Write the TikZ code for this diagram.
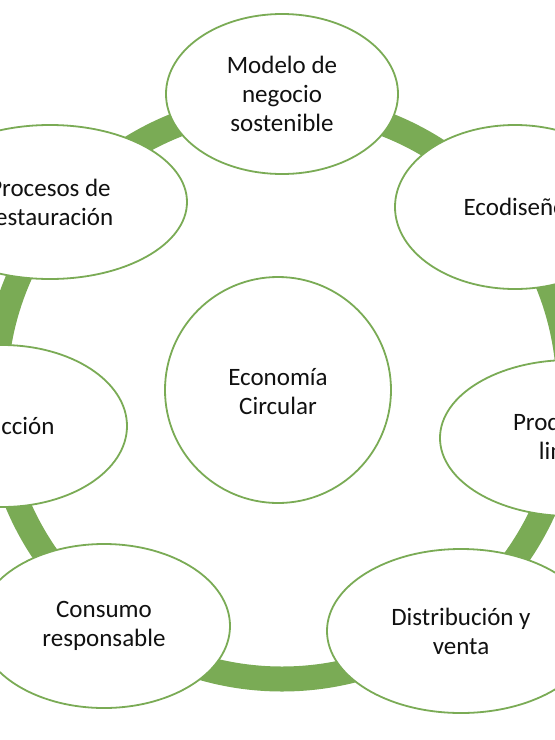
\documentclass[tikz,border=0pt]{standalone}
\usepackage{fontspec}
\setmainfont{Carlito}
\usepackage{tikz}
\usetikzlibrary{
  shapes.geometric,
  positioning
}
\definecolor{ecGreen}{HTML}{7AAB55}
\definecolor{ecText}{HTML}{111111}
\tikzset{
  ecnode/.style={
    ellipse, draw=ecGreen, line width=1.8pt, fill=white, inner sep=0pt,
    font=\fontsize{25}{29}\selectfont, text=ecText, align=center
  },
  hub/.style={ecnode, circle, minimum size=226pt},
  ring/.style={line width=25pt, ecGreen}
}
\begin{document}
\begin{tikzpicture}[x=1pt, y=-1pt]
  \useasboundingbox (0,0) rectangle (555,740);
  \clip (0,0) rectangle (555,740);
  \coordinate (ringc) at (282,392);
  \draw[ring] (ringc) circle[radius=287];
  % cycle stages
  \node[ecnode, minimum width=232pt, minimum height=160pt] (modelo) at (282,94) {Modelo de\\negocio\\sostenible};
  \node[ecnode, minimum width=240pt, minimum height=164pt] (ecodis) at (515,207) {Ecodiseño};
  \node[ecnode, minimum width=260pt, minimum height=156pt] (prod) at (570,438) {Producción\\limpia};
  \node[ecnode, minimum width=268pt, minimum height=164pt] (distr) at (461,631) {Distribución y\\venta};
  \node[ecnode, minimum width=252pt, minimum height=164pt] (consumo) at (104,626) {Consumo\\responsable};
  \node[ecnode, minimum width=250pt, minimum height=162pt] (reduc) at (2,426) {Reducción};
  \node[ecnode, minimum width=274pt, minimum height=154pt] (restaur) at (50,202) {Procesos de\\restauración};
  % centre
  \node[hub] (eco) at (278,390) {\strut Economía\\Circular};
\end{tikzpicture}
\end{document}
